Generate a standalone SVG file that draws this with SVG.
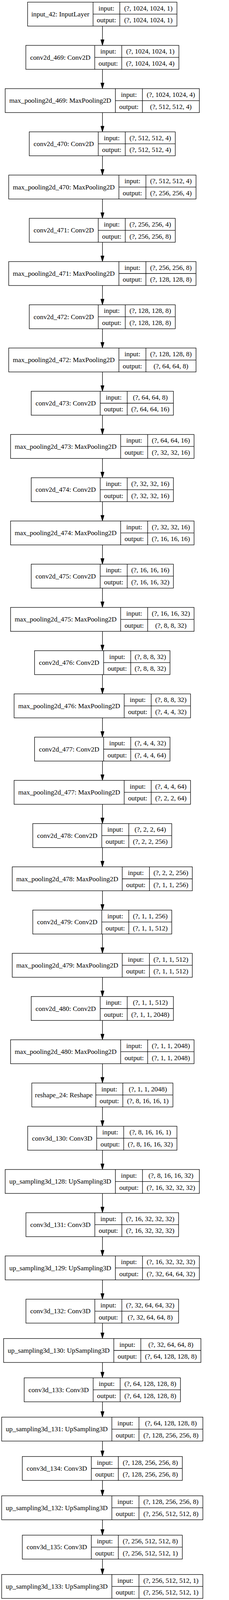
<svg xmlns="http://www.w3.org/2000/svg" width="585" height="4168" viewBox="0 0 585 4168">
<style>
.n rect{fill:#fff;stroke:#000;stroke-width:1.3}
.n path{fill:none;stroke:#000;stroke-width:1.3}
.n text{font-family:"Liberation Serif","Times New Roman",serif;font-size:17.4px;text-anchor:middle;fill:#000}
#edges path{fill:none;stroke:#000;stroke-width:1.3;marker-end:url(#ah)}
</style>
<defs>
<marker id="ah" markerUnits="userSpaceOnUse" markerWidth="15" markerHeight="9" refX="0" refY="4.3" orient="auto" overflow="visible">
<path d="M0,0 L14.5,4.3 L0,8.6 Z" fill="#000" stroke="#000" stroke-width="1"/>
</marker>
</defs>
<rect x="0" y="0" width="585" height="4168" fill="#fff"/>
<g id="edges">
<path d="M261.7,66.8V101.7"/>
<path d="M261.7,177.5V212.4"/>
<path d="M261.7,288.2V323.0"/>
<path d="M261.7,398.8V433.7"/>
<path d="M261.7,509.5V544.4"/>
<path d="M261.7,620.2V655.1"/>
<path d="M261.7,730.9V765.8"/>
<path d="M261.7,841.6V876.4"/>
<path d="M261.7,952.2V987.1"/>
<path d="M261.7,1062.9V1097.8"/>
<path d="M261.7,1173.6V1208.5"/>
<path d="M261.7,1284.3V1319.2"/>
<path d="M261.7,1395.0V1429.8"/>
<path d="M261.7,1505.6V1540.5"/>
<path d="M261.7,1616.3V1651.2"/>
<path d="M261.7,1727.0V1761.9"/>
<path d="M261.7,1837.7V1872.6"/>
<path d="M261.7,1948.4V1983.2"/>
<path d="M261.7,2059.0V2093.9"/>
<path d="M261.7,2169.7V2204.6"/>
<path d="M261.7,2280.4V2315.3"/>
<path d="M261.7,2391.1V2426.0"/>
<path d="M261.7,2501.8V2536.6"/>
<path d="M261.7,2612.4V2647.3"/>
<path d="M261.7,2723.1V2758.0"/>
<path d="M261.7,2833.8V2868.7"/>
<path d="M261.7,2944.5V2979.4"/>
<path d="M261.7,3055.2V3090.0"/>
<path d="M261.7,3165.8V3200.7"/>
<path d="M261.7,3276.5V3311.4"/>
<path d="M261.7,3387.2V3412.1"/>
<path d="M261.7,3487.9V3512.8"/>
<path d="M261.7,3588.6V3613.4"/>
<path d="M261.7,3689.2V3714.1"/>
<path d="M261.7,3789.9V3814.8"/>
<path d="M261.7,3890.6V3915.5"/>
<path d="M261.7,3991.3V4016.2"/>
</g>

<g id="input_42" class="n" transform="translate(0,5.5)">
<rect x="70.5" y="0" width="381.5" height="61.3"/>
<path d="M237.7,0V61.3M306,0V61.3M237.7,30.65H452"/>
<text x="154.1" y="36.45">input_42: InputLayer</text>
<text x="271.85" y="21.1">input:</text><text x="271.85" y="51.8">output:</text>
<text x="379" y="21.1">(?, 1024, 1024, 1)</text><text x="379" y="51.8">(?, 1024, 1024, 1)</text>
</g>
<g id="conv2d_469" class="n" transform="translate(0,116.2)">
<rect x="66" y="0" width="391" height="61.3"/>
<path d="M242,0V61.3M311,0V61.3M242,30.65H457"/>
<text x="154" y="36.45">conv2d_469: Conv2D</text>
<text x="276.5" y="21.1">input:</text><text x="276.5" y="51.8">output:</text>
<text x="384" y="21.1">(?, 1024, 1024, 1)</text><text x="384" y="51.8">(?, 1024, 1024, 4)</text>
</g>
<g id="max_pooling2d_469" class="n" transform="translate(0,226.9)">
<rect x="13.3" y="0" width="496" height="61.3"/>
<path d="M294.7,0V61.3M363.7,0V61.3M294.7,30.65H509.3"/>
<text x="154" y="36.45">max_pooling2d_469: MaxPooling2D</text>
<text x="329.2" y="21.1">input:</text><text x="329.2" y="51.8">output:</text>
<text x="436.5" y="21.1">(?, 1024, 1024, 4)</text><text x="436.5" y="51.8">(?, 512, 512, 4)</text>
</g>
<g id="conv2d_470" class="n" transform="translate(0,337.5)">
<rect x="74.7" y="0" width="373" height="61.3"/>
<path d="M251,0V61.3M320,0V61.3M251,30.65H447.7"/>
<text x="162.85" y="36.45">conv2d_470: Conv2D</text>
<text x="285.5" y="21.1">input:</text><text x="285.5" y="51.8">output:</text>
<text x="383.85" y="21.1">(?, 512, 512, 4)</text><text x="383.85" y="51.8">(?, 512, 512, 4)</text>
</g>
<g id="max_pooling2d_470" class="n" transform="translate(0,448.2)">
<rect x="22.3" y="0" width="478.4" height="61.3"/>
<path d="M303.7,0V61.3M372.7,0V61.3M303.7,30.65H500.7"/>
<text x="163" y="36.45">max_pooling2d_470: MaxPooling2D</text>
<text x="338.2" y="21.1">input:</text><text x="338.2" y="51.8">output:</text>
<text x="436.7" y="21.1">(?, 512, 512, 4)</text><text x="436.7" y="51.8">(?, 256, 256, 4)</text>
</g>
<g id="conv2d_471" class="n" transform="translate(0,558.9)">
<rect x="74.7" y="0" width="373" height="61.3"/>
<path d="M251,0V61.3M320,0V61.3M251,30.65H447.7"/>
<text x="162.85" y="36.45">conv2d_471: Conv2D</text>
<text x="285.5" y="21.1">input:</text><text x="285.5" y="51.8">output:</text>
<text x="383.85" y="21.1">(?, 256, 256, 4)</text><text x="383.85" y="51.8">(?, 256, 256, 8)</text>
</g>
<g id="max_pooling2d_471" class="n" transform="translate(0,669.6)">
<rect x="22.3" y="0" width="478.4" height="61.3"/>
<path d="M303.7,0V61.3M372.7,0V61.3M303.7,30.65H500.7"/>
<text x="163" y="36.45">max_pooling2d_471: MaxPooling2D</text>
<text x="338.2" y="21.1">input:</text><text x="338.2" y="51.8">output:</text>
<text x="436.7" y="21.1">(?, 256, 256, 8)</text><text x="436.7" y="51.8">(?, 128, 128, 8)</text>
</g>
<g id="conv2d_472" class="n" transform="translate(0,780.3)">
<rect x="74.7" y="0" width="373" height="61.3"/>
<path d="M251,0V61.3M320,0V61.3M251,30.65H447.7"/>
<text x="162.85" y="36.45">conv2d_472: Conv2D</text>
<text x="285.5" y="21.1">input:</text><text x="285.5" y="51.8">output:</text>
<text x="383.85" y="21.1">(?, 128, 128, 8)</text><text x="383.85" y="51.8">(?, 128, 128, 8)</text>
</g>
<g id="max_pooling2d_472" class="n" transform="translate(0,890.9)">
<rect x="22.3" y="0" width="478.4" height="61.3"/>
<path d="M303.7,0V61.3M372.7,0V61.3M303.7,30.65H500.7"/>
<text x="163" y="36.45">max_pooling2d_472: MaxPooling2D</text>
<text x="338.2" y="21.1">input:</text><text x="338.2" y="51.8">output:</text>
<text x="436.7" y="21.1">(?, 128, 128, 8)</text><text x="436.7" y="51.8">(?, 64, 64, 8)</text>
</g>
<g id="conv2d_473" class="n" transform="translate(0,1001.6)">
<rect x="79.7" y="0" width="363.3" height="61.3"/>
<path d="M256,0V61.3M325,0V61.3M256,30.65H443"/>
<text x="167.85" y="36.45">conv2d_473: Conv2D</text>
<text x="290.5" y="21.1">input:</text><text x="290.5" y="51.8">output:</text>
<text x="384" y="21.1">(?, 64, 64, 8)</text><text x="384" y="51.8">(?, 64, 64, 16)</text>
</g>
<g id="max_pooling2d_473" class="n" transform="translate(0,1112.3)">
<rect x="27" y="0" width="468.7" height="61.3"/>
<path d="M308.3,0V61.3M377.3,0V61.3M308.3,30.65H495.7"/>
<text x="167.65" y="36.45">max_pooling2d_473: MaxPooling2D</text>
<text x="342.8" y="21.1">input:</text><text x="342.8" y="51.8">output:</text>
<text x="436.5" y="21.1">(?, 64, 64, 16)</text><text x="436.5" y="51.8">(?, 32, 32, 16)</text>
</g>
<g id="conv2d_474" class="n" transform="translate(0,1223.0)">
<rect x="79.7" y="0" width="363.3" height="61.3"/>
<path d="M256,0V61.3M325,0V61.3M256,30.65H443"/>
<text x="167.85" y="36.45">conv2d_474: Conv2D</text>
<text x="290.5" y="21.1">input:</text><text x="290.5" y="51.8">output:</text>
<text x="384" y="21.1">(?, 32, 32, 16)</text><text x="384" y="51.8">(?, 32, 32, 16)</text>
</g>
<g id="max_pooling2d_474" class="n" transform="translate(0,1333.7)">
<rect x="27" y="0" width="468.7" height="61.3"/>
<path d="M308.3,0V61.3M377.3,0V61.3M308.3,30.65H495.7"/>
<text x="167.65" y="36.45">max_pooling2d_474: MaxPooling2D</text>
<text x="342.8" y="21.1">input:</text><text x="342.8" y="51.8">output:</text>
<text x="436.5" y="21.1">(?, 32, 32, 16)</text><text x="436.5" y="51.8">(?, 16, 16, 16)</text>
</g>
<g id="conv2d_475" class="n" transform="translate(0,1444.3)">
<rect x="79.7" y="0" width="363.3" height="61.3"/>
<path d="M256,0V61.3M325,0V61.3M256,30.65H443"/>
<text x="167.85" y="36.45">conv2d_475: Conv2D</text>
<text x="290.5" y="21.1">input:</text><text x="290.5" y="51.8">output:</text>
<text x="384" y="21.1">(?, 16, 16, 16)</text><text x="384" y="51.8">(?, 16, 16, 32)</text>
</g>
<g id="max_pooling2d_475" class="n" transform="translate(0,1555.0)">
<rect x="27" y="0" width="468.7" height="61.3"/>
<path d="M308.3,0V61.3M377.3,0V61.3M308.3,30.65H495.7"/>
<text x="167.65" y="36.45">max_pooling2d_475: MaxPooling2D</text>
<text x="342.8" y="21.1">input:</text><text x="342.8" y="51.8">output:</text>
<text x="436.5" y="21.1">(?, 16, 16, 32)</text><text x="436.5" y="51.8">(?, 8, 8, 32)</text>
</g>
<g id="conv2d_476" class="n" transform="translate(0,1665.7)">
<rect x="88.3" y="0" width="346" height="61.3"/>
<path d="M264.7,0V61.3M334,0V61.3M264.7,30.65H434.3"/>
<text x="176.5" y="36.45">conv2d_476: Conv2D</text>
<text x="299.35" y="21.1">input:</text><text x="299.35" y="51.8">output:</text>
<text x="384.15" y="21.1">(?, 8, 8, 32)</text><text x="384.15" y="51.8">(?, 8, 8, 32)</text>
</g>
<g id="max_pooling2d_476" class="n" transform="translate(0,1776.4)">
<rect x="36" y="0" width="450.7" height="61.3"/>
<path d="M317.3,0V61.3M386.3,0V61.3M317.3,30.65H486.7"/>
<text x="176.65" y="36.45">max_pooling2d_476: MaxPooling2D</text>
<text x="351.8" y="21.1">input:</text><text x="351.8" y="51.8">output:</text>
<text x="436.5" y="21.1">(?, 8, 8, 32)</text><text x="436.5" y="51.8">(?, 4, 4, 32)</text>
</g>
<g id="conv2d_477" class="n" transform="translate(0,1887.1)">
<rect x="88.3" y="0" width="346" height="61.3"/>
<path d="M264.7,0V61.3M334,0V61.3M264.7,30.65H434.3"/>
<text x="176.5" y="36.45">conv2d_477: Conv2D</text>
<text x="299.35" y="21.1">input:</text><text x="299.35" y="51.8">output:</text>
<text x="384.15" y="21.1">(?, 4, 4, 32)</text><text x="384.15" y="51.8">(?, 4, 4, 64)</text>
</g>
<g id="max_pooling2d_477" class="n" transform="translate(0,1997.7)">
<rect x="36" y="0" width="450.7" height="61.3"/>
<path d="M317.3,0V61.3M386.3,0V61.3M317.3,30.65H486.7"/>
<text x="176.65" y="36.45">max_pooling2d_477: MaxPooling2D</text>
<text x="351.8" y="21.1">input:</text><text x="351.8" y="51.8">output:</text>
<text x="436.5" y="21.1">(?, 4, 4, 64)</text><text x="436.5" y="51.8">(?, 2, 2, 64)</text>
</g>
<g id="conv2d_478" class="n" transform="translate(0,2108.4)">
<rect x="83.7" y="0" width="355" height="61.3"/>
<path d="M260,0V61.3M329,0V61.3M260,30.65H438.7"/>
<text x="171.85" y="36.45">conv2d_478: Conv2D</text>
<text x="294.5" y="21.1">input:</text><text x="294.5" y="51.8">output:</text>
<text x="383.85" y="21.1">(?, 2, 2, 64)</text><text x="383.85" y="51.8">(?, 2, 2, 256)</text>
</g>
<g id="max_pooling2d_478" class="n" transform="translate(0,2219.1)">
<rect x="31.3" y="0" width="460" height="61.3"/>
<path d="M312.3,0V61.3M381.7,0V61.3M312.3,30.65H491.3"/>
<text x="171.8" y="36.45">max_pooling2d_478: MaxPooling2D</text>
<text x="347" y="21.1">input:</text><text x="347" y="51.8">output:</text>
<text x="436.5" y="21.1">(?, 2, 2, 256)</text><text x="436.5" y="51.8">(?, 1, 1, 256)</text>
</g>
<g id="conv2d_479" class="n" transform="translate(0,2329.8)">
<rect x="83.7" y="0" width="355" height="61.3"/>
<path d="M260,0V61.3M329,0V61.3M260,30.65H438.7"/>
<text x="171.85" y="36.45">conv2d_479: Conv2D</text>
<text x="294.5" y="21.1">input:</text><text x="294.5" y="51.8">output:</text>
<text x="383.85" y="21.1">(?, 1, 1, 256)</text><text x="383.85" y="51.8">(?, 1, 1, 512)</text>
</g>
<g id="max_pooling2d_479" class="n" transform="translate(0,2440.5)">
<rect x="31.3" y="0" width="460" height="61.3"/>
<path d="M312.3,0V61.3M381.7,0V61.3M312.3,30.65H491.3"/>
<text x="171.8" y="36.45">max_pooling2d_479: MaxPooling2D</text>
<text x="347" y="21.1">input:</text><text x="347" y="51.8">output:</text>
<text x="436.5" y="21.1">(?, 1, 1, 512)</text><text x="436.5" y="51.8">(?, 1, 1, 512)</text>
</g>
<g id="conv2d_480" class="n" transform="translate(0,2551.1)">
<rect x="79.7" y="0" width="363.3" height="61.3"/>
<path d="M256,0V61.3M325,0V61.3M256,30.65H443"/>
<text x="167.85" y="36.45">conv2d_480: Conv2D</text>
<text x="290.5" y="21.1">input:</text><text x="290.5" y="51.8">output:</text>
<text x="384" y="21.1">(?, 1, 1, 512)</text><text x="384" y="51.8">(?, 1, 1, 2048)</text>
</g>
<g id="max_pooling2d_480" class="n" transform="translate(0,2661.8)">
<rect x="27" y="0" width="468.7" height="61.3"/>
<path d="M308.3,0V61.3M377.3,0V61.3M308.3,30.65H495.7"/>
<text x="167.65" y="36.45">max_pooling2d_480: MaxPooling2D</text>
<text x="342.8" y="21.1">input:</text><text x="342.8" y="51.8">output:</text>
<text x="436.5" y="21.1">(?, 1, 1, 2048)</text><text x="436.5" y="51.8">(?, 1, 1, 2048)</text>
</g>
<g id="reshape_24" class="n" transform="translate(0,2772.5)">
<rect x="81.3" y="0" width="360.4" height="61.3"/>
<path d="M244.7,0V61.3M313.7,0V61.3M244.7,30.65H441.7"/>
<text x="163" y="36.45">reshape_24: Reshape</text>
<text x="279.2" y="21.1">input:</text><text x="279.2" y="51.8">output:</text>
<text x="377.7" y="21.1">(?, 1, 1, 2048)</text><text x="377.7" y="51.8">(?, 8, 16, 16, 1)</text>
</g>
<g id="conv3d_130" class="n" transform="translate(0,2883.2)">
<rect x="70.7" y="0" width="381.3" height="61.3"/>
<path d="M247,0V61.3M316,0V61.3M247,30.65H452"/>
<text x="158.85" y="36.45">conv3d_130: Conv3D</text>
<text x="281.5" y="21.1">input:</text><text x="281.5" y="51.8">output:</text>
<text x="384" y="21.1">(?, 8, 16, 16, 1)</text><text x="384" y="51.8">(?, 8, 16, 16, 32)</text>
</g>
<g id="up_sampling3d_128" class="n" transform="translate(0,2993.9)">
<rect x="13.3" y="0" width="496" height="61.3"/>
<path d="M294.7,0V61.3M364,0V61.3M294.7,30.65H509.3"/>
<text x="154" y="36.45">up_sampling3d_128: UpSampling3D</text>
<text x="329.35" y="21.1">input:</text><text x="329.35" y="51.8">output:</text>
<text x="436.65" y="21.1">(?, 8, 16, 16, 32)</text><text x="436.65" y="51.8">(?, 16, 32, 32, 32)</text>
</g>
<g id="conv3d_131" class="n" transform="translate(0,3104.5)">
<rect x="66.3" y="0" width="390" height="61.3"/>
<path d="M242.3,0V61.3M311.3,0V61.3M242.3,30.65H456.3"/>
<text x="154.3" y="36.45">conv3d_131: Conv3D</text>
<text x="276.8" y="21.1">input:</text><text x="276.8" y="51.8">output:</text>
<text x="383.8" y="21.1">(?, 16, 32, 32, 32)</text><text x="383.8" y="51.8">(?, 16, 32, 32, 32)</text>
</g>
<g id="up_sampling3d_129" class="n" transform="translate(0,3215.2)">
<rect x="13.3" y="0" width="496" height="61.3"/>
<path d="M294.7,0V61.3M364,0V61.3M294.7,30.65H509.3"/>
<text x="154" y="36.45">up_sampling3d_129: UpSampling3D</text>
<text x="329.35" y="21.1">input:</text><text x="329.35" y="51.8">output:</text>
<text x="436.65" y="21.1">(?, 16, 32, 32, 32)</text><text x="436.65" y="51.8">(?, 32, 64, 64, 32)</text>
</g>
<g id="conv3d_132" class="n" transform="translate(0,3325.9)">
<rect x="66.3" y="0" width="390" height="61.3"/>
<path d="M242.3,0V61.3M311.3,0V61.3M242.3,30.65H456.3"/>
<text x="154.3" y="36.45">conv3d_132: Conv3D</text>
<text x="276.8" y="21.1">input:</text><text x="276.8" y="51.8">output:</text>
<text x="383.8" y="21.1">(?, 32, 64, 64, 32)</text><text x="383.8" y="51.8">(?, 32, 64, 64, 8)</text>
</g>
<g id="up_sampling3d_130" class="n" transform="translate(0,3426.6)">
<rect x="9.3" y="0" width="504" height="61.3"/>
<path d="M290.7,0V61.3M359.7,0V61.3M290.7,30.65H513.3"/>
<text x="150" y="36.45">up_sampling3d_130: UpSampling3D</text>
<text x="325.2" y="21.1">input:</text><text x="325.2" y="51.8">output:</text>
<text x="436.5" y="21.1">(?, 32, 64, 64, 8)</text><text x="436.5" y="51.8">(?, 64, 128, 128, 8)</text>
</g>
<g id="conv3d_133" class="n" transform="translate(0,3527.3)">
<rect x="61.7" y="0" width="399.3" height="61.3"/>
<path d="M238,0V61.3M307,0V61.3M238,30.65H461"/>
<text x="149.85" y="36.45">conv3d_133: Conv3D</text>
<text x="272.5" y="21.1">input:</text><text x="272.5" y="51.8">output:</text>
<text x="384" y="21.1">(?, 64, 128, 128, 8)</text><text x="384" y="51.8">(?, 64, 128, 128, 8)</text>
</g>
<g id="up_sampling3d_131" class="n" transform="translate(0,3627.9)">
<rect x="4.3" y="0" width="514" height="61.3"/>
<path d="M285.7,0V61.3M355,0V61.3M285.7,30.65H518.3"/>
<text x="145" y="36.45">up_sampling3d_131: UpSampling3D</text>
<text x="320.35" y="21.1">input:</text><text x="320.35" y="51.8">output:</text>
<text x="436.65" y="21.1">(?, 64, 128, 128, 8)</text><text x="436.65" y="51.8">(?, 128, 256, 256, 8)</text>
</g>
<g id="conv3d_134" class="n" transform="translate(0,3728.6)">
<rect x="57" y="0" width="408.7" height="61.3"/>
<path d="M233.3,0V61.3M302.3,0V61.3M233.3,30.65H465.7"/>
<text x="145.15" y="36.45">conv3d_134: Conv3D</text>
<text x="267.8" y="21.1">input:</text><text x="267.8" y="51.8">output:</text>
<text x="384" y="21.1">(?, 128, 256, 256, 8)</text><text x="384" y="51.8">(?, 128, 256, 256, 8)</text>
</g>
<g id="up_sampling3d_132" class="n" transform="translate(0,3829.3)">
<rect x="4.3" y="0" width="514" height="61.3"/>
<path d="M285.7,0V61.3M355,0V61.3M285.7,30.65H518.3"/>
<text x="145" y="36.45">up_sampling3d_132: UpSampling3D</text>
<text x="320.35" y="21.1">input:</text><text x="320.35" y="51.8">output:</text>
<text x="436.65" y="21.1">(?, 128, 256, 256, 8)</text><text x="436.65" y="51.8">(?, 256, 512, 512, 8)</text>
</g>
<g id="conv3d_135" class="n" transform="translate(0,3930.0)">
<rect x="57" y="0" width="408.7" height="61.3"/>
<path d="M233.3,0V61.3M302.3,0V61.3M233.3,30.65H465.7"/>
<text x="145.15" y="36.45">conv3d_135: Conv3D</text>
<text x="267.8" y="21.1">input:</text><text x="267.8" y="51.8">output:</text>
<text x="384" y="21.1">(?, 256, 512, 512, 8)</text><text x="384" y="51.8">(?, 256, 512, 512, 1)</text>
</g>
<g id="up_sampling3d_133" class="n" transform="translate(0,4030.7)">
<rect x="4.3" y="0" width="514" height="61.3"/>
<path d="M285.7,0V61.3M355,0V61.3M285.7,30.65H518.3"/>
<text x="145" y="36.45">up_sampling3d_133: UpSampling3D</text>
<text x="320.35" y="21.1">input:</text><text x="320.35" y="51.8">output:</text>
<text x="436.65" y="21.1">(?, 256, 512, 512, 1)</text><text x="436.65" y="51.8">(?, 256, 512, 512, 1)</text>
</g>
</svg>
